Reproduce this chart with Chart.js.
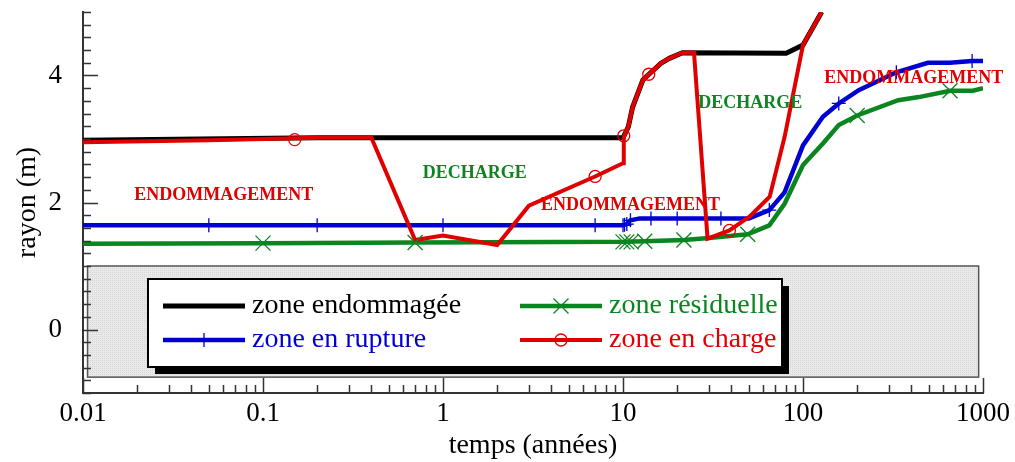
<!DOCTYPE html>
<html>
<head>
<meta charset="utf-8">
<script src="https://cdn.jsdelivr.net/npm/chart.js@4.4.1/dist/chart.umd.min.js"></script>
<style>
    html, body { margin: 0; padding: 0; background: #ffffff; }
</style>
</head>
<body>
<canvas id="rayonGrafiks" width="1015" height="462"></canvas>
<script>
// Curve "zone endommagée" (time in years, radius in m).
const damagedX = [0.01, 0.2, 10, 10.7, 11.3, 12.9, 16.2, 18.1, 21.4, 80.6, 100, 127];
const damagedY = [2.98, 3.02, 3.02, 3.19, 3.5, 3.93, 4.19, 4.27, 4.36, 4.35, 4.48, 5.0];

// Curve "zone en rupture" and its + markers.
const ruptureX = [0.01, 10, 10.5, 11, 12.4, 50, 65, 79, 100, 129, 158, 204, 330, 494, 656, 870, 1000];
const ruptureY = [1.64, 1.64, 1.66, 1.72, 1.75, 1.75, 1.88, 2.16, 2.9, 3.35, 3.56, 3.77, 4.05, 4.2, 4.2, 4.23, 4.23];
const ruptureMarkX = [0.05, 0.2, 1, 7, 10, 10.2, 10.5, 11, 14.3, 20, 35, 65, 158, 330, 870];
const ruptureMarkY = [1.64, 1.64, 1.64, 1.64, 1.64, 1.65, 1.66, 1.72, 1.75, 1.75, 1.75, 1.88, 3.56, 4.05, 4.23];

// Curve "zone résiduelle" and its x markers.
const residualX = [0.01, 0.1, 0.7, 10, 13.2, 21.8, 30, 49.3, 65, 79, 100, 129, 158, 200, 338, 440, 656, 880, 1000];
const residualY = [1.35, 1.36, 1.37, 1.38, 1.39, 1.41, 1.44, 1.5, 1.64, 1.98, 2.59, 2.93, 3.22, 3.37, 3.61, 3.66, 3.76, 3.76, 3.8];
const residualMarkX = [0.1, 0.7, 10, 10.5, 11.1, 13.2, 21.8, 49.3, 200, 656];
const residualMarkY = [1.36, 1.37, 1.38, 1.38, 1.38, 1.39, 1.41, 1.5, 3.37, 3.76];

// Curve "zone en charge" and its circle markers.
const chargeX = [0.01, 0.05, 0.2, 0.4, 0.7, 1, 2, 3, 7, 10, 10.1, 10.7, 11.3, 12.9, 16.2, 18.1, 21.4, 24.8, 29.5, 39, 50.6, 65.3, 79, 100, 127];
const chargeY = [2.95, 2.98, 3.02, 3.02, 1.41, 1.48, 1.33, 1.95, 2.41, 2.62, 3.03, 3.19, 3.5, 3.93, 4.19, 4.27, 4.36, 4.36, 1.43, 1.56, 1.78, 2.09, 3.03, 4.48, 5.0];
const chargeMarkX = [0.15, 7, 10.1, 13.9, 39];
const chargeMarkY = [2.99, 2.41, 3.05, 4.02, 1.56];

// Tick values and their labels.
const xTickValues = [0.01, 0.1, 1, 10, 100, 1000];
const xTickLabels = ["0.01", "0.1", "1", "10", "100", "1000"];
const yTickValues = [0, 2, 4];
const yTickLabels = ["0", "2", "4"];

// Phase labels written inside the plot.
const noteTexts = ["ENDOMMAGEMENT", "DECHARGE", "ENDOMMAGEMENT", "DECHARGE", "ENDOMMAGEMENT"];
const noteX = [0.0605, 1.5, 11.0, 51, 412];
const noteY = [2.11, 2.46, 1.96, 3.56, 3.96];

// Colours used by the figure.
const black = "#000000";
const blue = "#0000d0";
const green = "#0a8520";
const red = "#e00000";
const serif = "'Liberation Serif', 'Times New Roman', serif";

// Shaded band behind the legend, in data units.
const band = { xMin: 0.0106, xMax: 946, yMin: -0.75, yMax: 1.0 };

// Legend box in pixels.
const legendBox = { left: 148, top: 279, right: 782, bottom: 367, shadow: 7 };
const legendRows = [306, 340];
const legendCols = [163, 520];

// Turns two arrays into Chart.js points.
function toPoints(xs, ys) {
    return xs.map((x, i) => ({ x: x, y: ys[i] }));
}

// Builds a light dotted pattern for the band.
function makePattern(ctx) {
    const tile = document.createElement("canvas");
    tile.width = 2;
    tile.height = 2;
    const t = tile.getContext("2d");
    t.fillStyle = "#e9e9e9";
    t.fillRect(0, 0, 2, 2);
    t.fillStyle = "#d7d7d7";
    t.fillRect(0, 0, 1, 1);
    return ctx.createPattern(tile, "repeat");
}

// Draws the grey band before the curves.
const bandPlugin = {
    id: "band",
    beforeDatasetsDraw(chart) {
        const ctx = chart.ctx;
        const x = chart.scales.x;
        const y = chart.scales.y;
        const left = x.getPixelForValue(band.xMin);
        const right = x.getPixelForValue(band.xMax);
        const top = y.getPixelForValue(band.yMax);
        const bottom = y.getPixelForValue(band.yMin);
        ctx.save();
        ctx.fillStyle = makePattern(ctx);
        ctx.fillRect(left, top, right - left, bottom - top);
        ctx.strokeStyle = "#555555";
        ctx.lineWidth = 1.5;
        ctx.strokeRect(left, top, right - left, bottom - top);
        ctx.restore();
    }
};

// Draws a legend marker of the given kind.
function drawMarker(ctx, kind, cx, cy, colour) {
    ctx.save();
    ctx.strokeStyle = colour;
    ctx.lineWidth = 1.3;
    ctx.beginPath();
    if (kind === "cross") {
        ctx.moveTo(cx, cy - 7);
        ctx.lineTo(cx, cy + 7);
        ctx.moveTo(cx - 7, cy);
        ctx.lineTo(cx + 7, cy);
    } else if (kind === "crossRot") {
        ctx.moveTo(cx - 7.5, cy - 7.5);
        ctx.lineTo(cx + 7.5, cy + 7.5);
        ctx.moveTo(cx - 7.5, cy + 7.5);
        ctx.lineTo(cx + 7.5, cy - 7.5);
    } else if (kind === "circle") {
        ctx.arc(cx, cy, 6, 0, Math.PI * 2);
    }
    ctx.stroke();
    ctx.restore();
}

// Draws ticks, phase labels and the legend after the curves.
const decorPlugin = {
    id: "decor",
    afterDraw(chart) {
        const ctx = chart.ctx;
        const x = chart.scales.x;
        const y = chart.scales.y;
        const area = chart.chartArea;
        ctx.save();

        // Ticks on the y axis, pointing inward.
        ctx.strokeStyle = "#333333";
        ctx.lineWidth = 1.5;
        ctx.beginPath();
        for (let i = -5; i <= 25; i++) {
            const v = i / 5;
            const py = Math.round(y.getPixelForValue(v)) + 0.5;
            const len = yTickValues.includes(v) ? 15 : 8;
            ctx.moveTo(area.left, py);
            ctx.lineTo(area.left + len, py);
        }

        // Ticks on the log x axis, pointing inward.
        for (let d = 0.01; d < 1000; d *= 10) {
            for (let m = 1; m <= 10; m++) {
                const v = m * d;
                const px = Math.round(x.getPixelForValue(v)) + 0.5;
                const len = (m === 1 || m === 10) ? 15 : 8;
                ctx.moveTo(px, area.bottom);
                ctx.lineTo(px, area.bottom - len);
            }
        }
        ctx.stroke();

        // Phase labels.
        ctx.font = "bold 18px " + serif;
        ctx.textAlign = "center";
        ctx.textBaseline = "middle";
        noteTexts.forEach((text, i) => {
            ctx.fillStyle = text === "DECHARGE" ? green : red;
            ctx.fillText(text, x.getPixelForValue(noteX[i]), y.getPixelForValue(noteY[i]));
        });

        // Legend shadow and frame.
        const b = legendBox;
        ctx.fillStyle = "#000000";
        ctx.fillRect(b.left + b.shadow, b.top + b.shadow, b.right - b.left, b.bottom - b.top);
        ctx.fillStyle = "#ffffff";
        ctx.fillRect(b.left, b.top, b.right - b.left, b.bottom - b.top);
        ctx.strokeStyle = "#000000";
        ctx.lineWidth = 2;
        ctx.strokeRect(b.left, b.top, b.right - b.left, b.bottom - b.top);

        // Legend entries taken from the four curve datasets.
        const kinds = [null, "cross", "crossRot", "circle"];
        const slots = [[0, 0], [0, 1], [1, 0], [1, 1]];
        ctx.font = "28px " + serif;
        ctx.textAlign = "left";
        ctx.textBaseline = "middle";
        for (let i = 0; i < 4; i++) {
            const ds = chart.data.datasets[i];
            const lx = legendCols[slots[i][0]];
            const ly = legendRows[slots[i][1]];
            ctx.strokeStyle = ds.borderColor;
            ctx.lineWidth = ds.borderWidth;
            ctx.beginPath();
            ctx.moveTo(lx, ly);
            ctx.lineTo(lx + 82, ly);
            ctx.stroke();
            if (kinds[i]) {
                drawMarker(ctx, kinds[i], lx + 41, ly, ds.borderColor);
            }
            ctx.fillStyle = ds.borderColor;
            ctx.fillText(ds.label, lx + 89, ly);
        }
        ctx.restore();
    }
};

// Finds the canvas and its 2D context.
const canvas = document.getElementById("rayonGrafiks");
const context = canvas.getContext("2d");

// Creates the chart.
new Chart(context, {
    type: "line",
    data: {
        datasets: [
            { label: "zone endommagée", data: toPoints(damagedX, damagedY), borderColor: black, borderWidth: 5, pointRadius: 0, order: 3 },
            { label: "zone en rupture", data: toPoints(ruptureX, ruptureY), borderColor: blue, borderWidth: 4.5, pointRadius: 0, order: 4 },
            { label: "zone résiduelle", data: toPoints(residualX, residualY), borderColor: green, borderWidth: 4.5, pointRadius: 0, order: 5 },
            { label: "zone en charge", data: toPoints(chargeX, chargeY), borderColor: red, borderWidth: 4, pointRadius: 0, order: 2 },
            { label: "rupture marks", data: toPoints(ruptureMarkX, ruptureMarkY), showLine: false, pointStyle: "cross", pointRadius: 7, pointBorderWidth: 1.3, borderColor: blue, backgroundColor: blue, order: 1 },
            { label: "residual marks", data: toPoints(residualMarkX, residualMarkY), showLine: false, pointStyle: "crossRot", pointRadius: 10.6, pointBorderWidth: 1.3, borderColor: green, backgroundColor: green, order: 1 },
            { label: "charge marks", data: toPoints(chargeMarkX, chargeMarkY), showLine: false, pointStyle: "circle", pointRadius: 6, pointBorderWidth: 1.3, borderColor: red, backgroundColor: "rgba(0,0,0,0)", order: 0 }
        ]
    },
    options: {
        responsive: false,
        animation: false,
        events: [],
        layout: { padding: { top: 12, right: 32, left: 0, bottom: 0 } },
        plugins: {
            legend: { display: false },
            tooltip: { enabled: false }
        },
        scales: {
            x: {
                type: "logarithmic",
                min: 0.01,
                max: 1000,
                grid: { display: false, drawTicks: false },
                border: { display: true, color: "#333333", width: 2 },
                afterBuildTicks(scale) {
                    scale.ticks = xTickValues.map((v) => ({ value: v, major: true }));
                },
                afterFit(scale) {
                    scale.height = 69;
                    scale.paddingLeft = 0;
                    scale.paddingRight = 0;
                },
                ticks: {
                    autoSkip: false,
                    maxRotation: 0,
                    padding: 5,
                    color: "#000000",
                    font: { family: serif, size: 27 },
                    callback: (value, index) => xTickLabels[index]
                },
                title: {
                    display: true,
                    text: "temps (années)",
                    color: "#000000",
                    font: { family: serif, size: 28 },
                    padding: { top: 0, bottom: 0 }
                }
            },
            y: {
                min: -1,
                max: 5,
                grid: { display: false, drawTicks: false },
                border: { display: true, color: "#333333", width: 2 },
                afterBuildTicks(scale) {
                    scale.ticks = yTickValues.map((v) => ({ value: v }));
                },
                afterFit(scale) {
                    scale.width = 83;
                    scale.paddingTop = 0;
                    scale.paddingBottom = 0;
                },
                ticks: {
                    padding: 21,
                    color: "#000000",
                    font: { family: serif, size: 27 },
                    callback: (value, index) => yTickLabels[index]
                },
                title: {
                    display: true,
                    text: "rayon (m)",
                    color: "#000000",
                    font: { family: serif, size: 28 },
                    padding: { top: 11, bottom: 0 }
                }
            }
        }
    },
    plugins: [bandPlugin, decorPlugin]
});
</script>
</body>
</html>
